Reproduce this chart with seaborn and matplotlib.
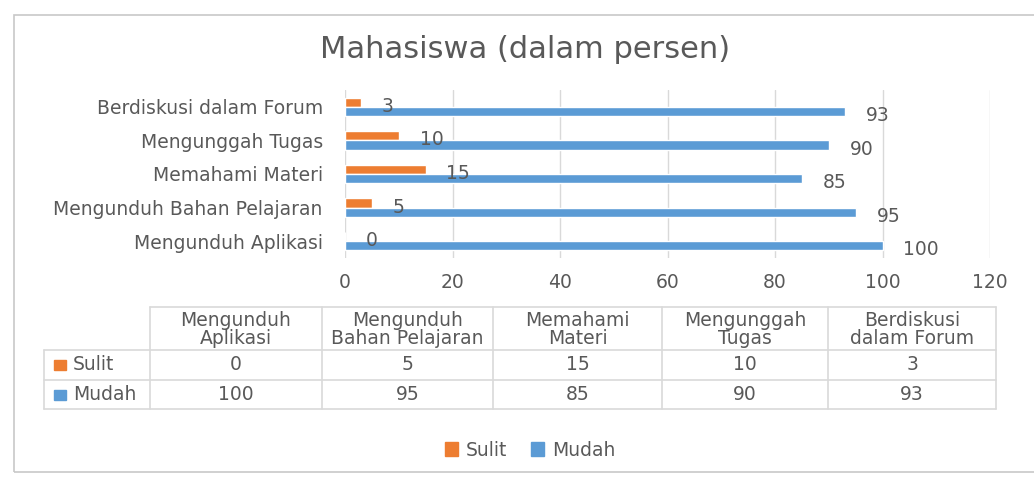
import matplotlib
matplotlib.use("Agg")
import matplotlib.pyplot as plt
from matplotlib.patches import Rectangle
import seaborn as sns
import pandas as pd

# data
kegiatan = ["Mengunduh Aplikasi", "Mengunduh Bahan Pelajaran", "Memahami Materi",
            "Mengunggah Tugas", "Berdiskusi dalam Forum"]
kegiatan_tabel = ["Mengunduh\nAplikasi", "Mengunduh\nBahan Pelajaran", "Memahami\nMateri",
                  "Mengunggah\nTugas", "Berdiskusi\ndalam Forum"]
sulit = [0, 5, 15, 10, 3]
mudah = [100, 95, 85, 90, 93]
seri = ["Sulit", "Mudah"]
warna = {"Sulit": "#ED7D31", "Mudah": "#5B9BD5"}
teks = "#595959"

df = pd.DataFrame({
    "Kegiatan": kegiatan * 2,
    "Seri": ["Sulit"] * 5 + ["Mudah"] * 5,
    "Nilai": sulit + mudah,
})

sns.set_theme(style="white")
plt.rcParams["font.family"] = ["DejaVu Sans"]

W, H = 1034, 479
fig = plt.figure(figsize=(W / 100, H / 100), dpi=100)

def fx(px):
    return px / W

def fy(py):
    return 1 - py / H

# chart frame
fig.patches.append(Rectangle((fx(14), fy(472)), fx(1040) - fx(14), fy(15) - fy(472),
                             transform=fig.transFigure, fill=False,
                             edgecolor="#C8C8C8", linewidth=1.2))

fs = 13.5

ax = fig.add_axes([fx(345), fy(258), fx(990) - fx(345), fy(90) - fy(258)])
sns.barplot(data=df, x="Nilai", y="Kegiatan", hue="Seri", hue_order=seri,
            order=kegiatan[::-1], palette=warna, width=0.55, orient="h",
            saturation=1, ax=ax)
ax.get_legend().remove()

for c in ax.containers:
    for t in ax.bar_label(c, padding=15, color=teks, fontsize=fs):
        t.set_y(-3)

ax.set_xlim(0, 120)
ax.set_xticks(range(0, 121, 20))
ax.grid(axis="x", color="#D9D9D9", linewidth=1)
ax.set_axisbelow(True)
for s in ax.spines.values():
    s.set_visible(False)
ax.set_xlabel("")
ax.set_ylabel("")
ax.tick_params(axis="both", length=0, colors=teks, labelsize=fs)
ax.tick_params(axis="x", pad=11)
ax.tick_params(axis="y", pad=16)

fig.text(fx(525), fy(50), "Mahasiswa (dalam persen)", ha="center", va="center",
         fontsize=22, color=teks)

# data table
col_x = [150, 322, 493, 662, 828, 996]
row_y = [307, 350, 380, 409]
garis = "#D9D9D9"
tab = fig.add_axes([0, 0, 1, 1])
tab.set_xlim(0, W)
tab.set_ylim(H, 0)
tab.axis("off")
for x in col_x:
    tab.plot([x, x], [row_y[0], row_y[-1]], color=garis, lw=1.2)
tab.plot([44, 44], [row_y[1], row_y[-1]], color=garis, lw=1.2)
tab.plot([col_x[0], col_x[-1]], [row_y[0], row_y[0]], color=garis, lw=1.2)
for y in row_y[1:]:
    tab.plot([44, col_x[-1]], [y, y], color=garis, lw=1.2)

for i, lab in enumerate(kegiatan_tabel):
    cx = (col_x[i] + col_x[i + 1]) / 2
    tab.text(cx, (row_y[0] + row_y[1]) / 2 + 1, lab, ha="center", va="center",
             color=teks, fontsize=fs, linespacing=0.9)
    tab.text(cx, (row_y[1] + row_y[2]) / 2, str(sulit[i]), ha="center", va="center",
             color=teks, fontsize=fs)
    tab.text(cx, (row_y[2] + row_y[3]) / 2, str(mudah[i]), ha="center", va="center",
             color=teks, fontsize=fs)

for j, nama in enumerate(seri):
    yc = (row_y[j + 1] + row_y[j + 2]) / 2
    tab.add_patch(Rectangle((54, yc - 5), 12, 10, color=warna[nama]))
    tab.text(73, yc, nama, ha="left", va="center", color=teks, fontsize=fs)

# legend
handles = [Rectangle((0, 0), 1, 1, color=warna[s]) for s in seri]
fig.legend(handles, seri, loc="center", bbox_to_anchor=(fx(530), fy(450)), ncol=2,
           frameon=False, fontsize=fs, labelcolor=teks, handlelength=0.7,
           handleheight=0.7, handletextpad=0.4, columnspacing=1.3)

fig.savefig("out.png", dpi=100)
